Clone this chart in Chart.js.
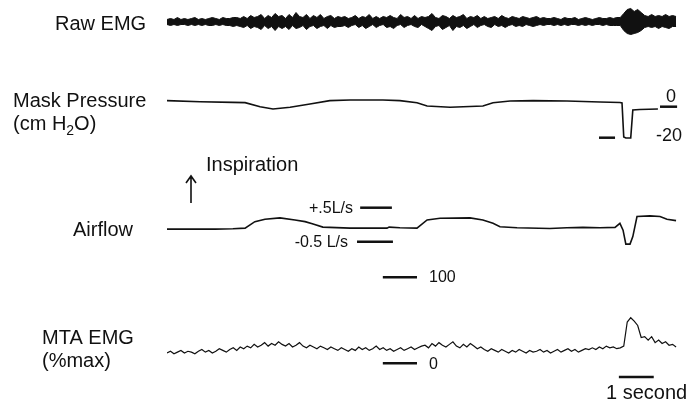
<!DOCTYPE html>
<html>
<head>
<meta charset="utf-8">
<title>EMG, mask pressure and airflow traces</title>
<script src="https://cdn.jsdelivr.net/npm/chart.js@4.4.1/dist/chart.umd.min.js"></script>
<style>
  html, body { margin: 0; padding: 0; background: #fff; }
  #wrap { position: relative; width: 700px; height: 403px; }
</style>
</head>
<body>
<div id="wrap"><canvas id="traces"></canvas></div>
<script>
// Time axis (seconds)
const timeMax = 15;

// Raw EMG envelope (arbitrary units), one sample every 0.1 s
const rawStep = 0.1;
const rawUpper = [2,3,2,4,2,3,2,3,4,2,3,2,3,4,3,2,4,3,3,4,
  4,3,5,3,6,4,5,7,3,6,4,8,5,6,3,7,4,9,5,4,7,3,6,4,7,3,5,6,3,5,
  4,5,3,4,6,3,5,4,7,3,5,3,5,4,6,4,3,7,4,5,3,6,3,5,4,5,8,4,3,6,
  5,3,6,4,5,7,3,5,4,6,3,5,3,4,5,3,6,4,3,5,4,3,5,4,3,4,5,3,4,3,
  3,4,3,2,4,3,3,4,2,3,4,3,2,3,4,3,3,4,3,4,
  4,8,12,13,10,12,9,6,5,7,5,6,5,7,5,6,5];
const rawLower = [-3,-4,-3,-4,-3,-3,-4,-3,-4,-3,-4,-3,-4,-4,-3,-4,-3,-4,-4,-5,
  -4,-5,-6,-4,-7,-5,-6,-8,-4,-7,-5,-9,-5,-7,-5,-8,-4,-7,-6,-4,-8,-5,-4,-7,-5,-4,-7,-4,-6,-5,
  -5,-4,-6,-4,-3,-6,-4,-7,-5,-3,-6,-4,-3,-6,-5,-7,-4,-3,-6,-4,-3,-5,-6,-3,-5,-7,-9,-5,-4,-8,
  -6,-4,-9,-5,-6,-4,-7,-5,-3,-6,-4,-3,-5,-6,-3,-5,-4,-6,-4,-3,-5,-4,-5,-3,-4,-5,-4,-3,-4,-3,
  -3,-4,-3,-4,-3,-4,-3,-3,-4,-3,-4,-3,-4,-3,-3,-4,-3,-4,-4,-4,
  -4,-9,-12,-13,-12,-11,-9,-6,-5,-6,-5,-7,-5,-6,-7,-5,-5];

// Mask pressure (cm H2O)
const pressureTimes = [0, 0.95, 1.89, 2.24, 2.67, 3.04, 3.53, 4.10, 4.67, 5.25, 6.19, 6.68, 7.17, 7.46, 8.12,
  9.06, 9.35, 9.84, 10.50, 11.47, 12.42, 12.99, 13.05, 13.10, 13.16, 13.30, 13.36, 13.56, 14.08];
const pressureValues = [3.9, 3.2, 2.8, 2.6, 0, -1.5, -0.4, 1.7, 3.9, 4.3, 4.3, 3.9, 2.6, 0.5, -0.4,
  0.5, 2.6, 3.7, 3.9, 3.7, 3.0, 2.7, 2.4, -19.5, -20.2, -20.2, -2.1, -1.8, -1.5];
const pressureBarValues = [0, -20];
const pressureBarTimes = [[14.14, 14.63], [12.39, 12.85]];

// Airflow (L/s), inspiration positive
const flowTimes = [0, 1.38, 1.89, 2.24, 2.52, 2.81, 3.24, 3.67, 3.96, 4.19, 4.47, 5.25, 6.31, 6.37, 6.68, 7.17,
  7.46, 7.83, 8.69, 9.06, 9.35, 9.55, 10.04, 10.98, 11.47, 11.93, 12.42, 12.85, 12.99, 13.08, 13.16,
  13.28, 13.36, 13.48, 13.85, 14.14, 14.34, 14.60];
const flowValues = [-0.13, -0.13, -0.12, -0.10, 0.09, 0.16, 0.20, 0.14, 0.09, 0.02, -0.07, -0.10, -0.10, -0.07, -0.09, -0.10,
  0.14, 0.19, 0.20, 0.14, 0.04, -0.06, -0.09, -0.11, -0.09, -0.08, -0.09, -0.08, 0.04, -0.16, -0.57,
  -0.57, -0.35, 0.24, 0.26, 0.24, 0.16, 0.12];
const flowBarValues = [0.5, -0.5];
const flowBarTimes = [[5.54, 6.45], [5.45, 6.48]];

// MTA EMG (% of maximum), one sample every 0.1 s
const mtaStep = 0.1;
const mtaValues = [12,14,11,13,15,12,14,13,11,14,16,13,15,12,14,17,15,13,16,
  18,15,19,17,20,18,22,19,21,24,20,23,21,25,22,20,23,19,21,24,20,18,21,19,17,20,18,16,19,
  17,15,18,16,14,17,15,19,16,18,15,17,20,16,18,15,17,14,16,18,15,17,19,16,18,20,
  21,18,23,20,24,21,19,22,25,20,18,22,19,23,20,17,19,
  16,14,17,15,13,16,14,12,15,13,16,14,12,15,13,14,16,13,15,12,14,16,13,15,17,14,16,13,15,17,16,
  18,16,19,17,20,18,19,17,18,
  20,48,53,49,44,30,31,27,31,24,27,23,25,21,22,19];
const mtaBarValues = [100, 0];
const mtaBarTimes = [[6.19, 7.17], [6.19, 7.17]];

// 1 second time calibration
const timeBar = [12.96, 13.96];
const timeBarLevel = -16;

// vertical placement of each trace: pixel of zero and pixels per unit
const canvasH = 403;
const tracePlacement = {
  yRaw: { zero: 21.5, ppu: 1 },
  yPress: { zero: 106.7, ppu: 1.55 },
  yFlow: { zero: 224.7, ppu: 34 },
  yMta: { zero: 363.3, ppu: 0.86 }
};

function axisFor(id) {
  const p = tracePlacement[id];
  return { type: 'linear', display: false, min: -(canvasH - p.zero) / p.ppu, max: p.zero / p.ppu };
}

function paired(times, values) {
  return values.map((v, i) => ({ x: times[i], y: v }));
}

function sampled(step, values) {
  return values.map((v, i) => ({ x: +(i * step).toFixed(2), y: v }));
}

function trace(data, axis, width) {
  return { data: data, yAxisID: axis, borderColor: '#111', borderWidth: width,
    pointRadius: 0, tension: 0, fill: false };
}

function bars(ranges, values, axis) {
  return values.map((v, i) => trace([{ x: ranges[i][0], y: v }, { x: ranges[i][1], y: v }], axis, 2.5));
}

const datasets = [
  Object.assign(trace(sampled(rawStep, rawUpper), 'yRaw', 1), { fill: '+1', backgroundColor: '#111' }),
  trace(sampled(rawStep, rawLower), 'yRaw', 1),
  trace(paired(pressureTimes, pressureValues), 'yPress', 1.6),
  trace(paired(flowTimes, flowValues), 'yFlow', 1.6),
  trace(sampled(mtaStep, mtaValues), 'yMta', 1.2),
  ...bars(pressureBarTimes, pressureBarValues, 'yPress'),
  ...bars(flowBarTimes, flowBarValues, 'yFlow'),
  ...bars(mtaBarTimes, mtaBarValues, 'yMta'),
  trace([{ x: timeBar[0], y: timeBarLevel }, { x: timeBar[1], y: timeBarLevel }], 'yMta', 2.5)
];

// Text drawn on top of the traces
const FONT = '"Liberation Sans", Arial, Helvetica, sans-serif';
const labels = [
  { text: 'Raw EMG', x: 55, y: 30, size: 20 },
  { text: 'Mask Pressure', x: 13, y: 107, size: 20 },
  { text: 'Inspiration', x: 206, y: 171, size: 20 },
  { text: 'Airflow', x: 73, y: 236, size: 20 },
  { text: 'MTA EMG', x: 42, y: 344, size: 20 },
  { text: '(%max)', x: 42, y: 367, size: 20 },
  { text: '+.5L/s', x: 353, y: 213, size: 16, align: 'right' },
  { text: '-0.5 L/s', x: 348, y: 247, size: 16, align: 'right' },
  { text: '100', x: 429, y: 282, size: 16 },
  { text: '0', x: 429, y: 369, size: 16 },
  { text: '0', x: 666, y: 102, size: 18 },
  { text: '-20', x: 656, y: 141, size: 18 },
  { text: '1 second', x: 606, y: 399, size: 20 }
];

const labelPlugin = {
  id: 'traceLabels',
  afterDraw(chart) {
    const ctx = chart.ctx;
    ctx.save();
    ctx.fillStyle = '#111';
    ctx.textBaseline = 'alphabetic';
    labels.forEach(l => {
      ctx.font = l.size + 'px ' + FONT;
      ctx.textAlign = l.align || 'left';
      ctx.fillText(l.text, l.x, l.y);
    });

    // (cm H2O) with subscript
    ctx.textAlign = 'left';
    let x = 13;
    ctx.font = '20px ' + FONT;
    ctx.fillText('(cm H', x, 130);
    x += ctx.measureText('(cm H').width;
    ctx.font = '14px ' + FONT;
    ctx.fillText('2', x, 135);
    x += ctx.measureText('2').width;
    ctx.font = '20px ' + FONT;
    ctx.fillText('O)', x, 130);

    // inspiration arrow
    ctx.strokeStyle = '#111';
    ctx.lineWidth = 1.6;
    ctx.beginPath();
    ctx.moveTo(191, 203);
    ctx.lineTo(191, 176);
    ctx.moveTo(186, 183);
    ctx.lineTo(191, 176);
    ctx.lineTo(196, 183);
    ctx.stroke();
    ctx.restore();
  }
};

new Chart(document.getElementById('traces'), {
  type: 'line',
  data: { datasets: datasets },
  options: {
    responsive: true,
    maintainAspectRatio: false,
    animation: false,
    events: [],
    layout: { padding: { left: 167, right: 10, top: 0, bottom: 0 } },
    plugins: { legend: { display: false }, tooltip: { enabled: false } },
    scales: {
      x: { type: 'linear', display: false, min: 0, max: timeMax },
      yRaw: axisFor('yRaw'),
      yPress: axisFor('yPress'),
      yFlow: axisFor('yFlow'),
      yMta: axisFor('yMta')
    }
  },
  plugins: [labelPlugin]
});
</script>
</body>
</html>
